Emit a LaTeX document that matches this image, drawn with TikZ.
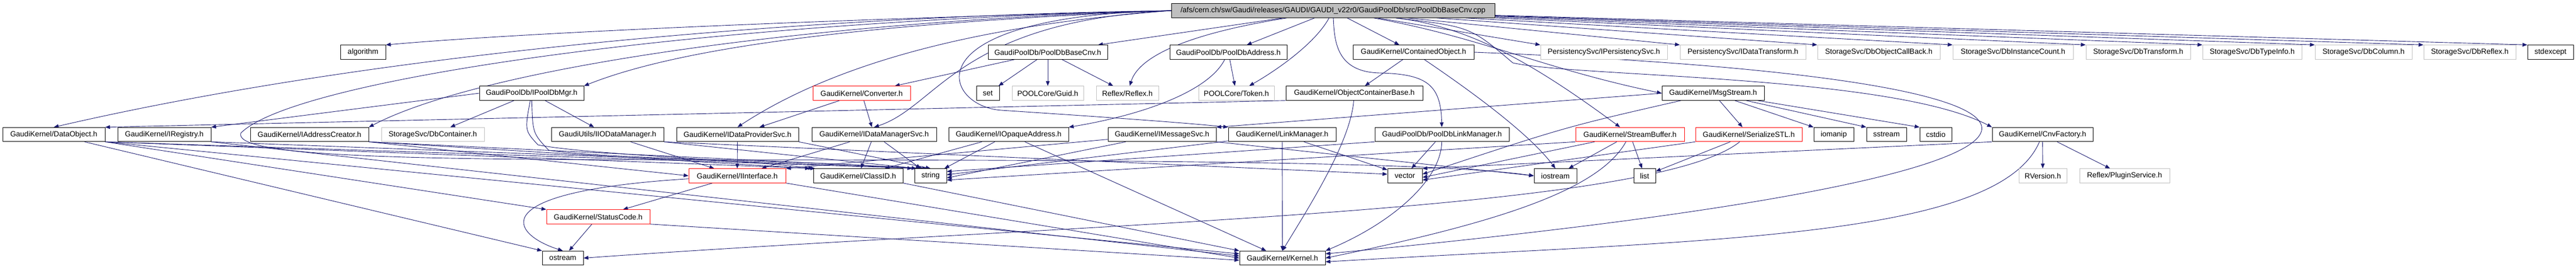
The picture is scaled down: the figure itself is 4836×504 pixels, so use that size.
\documentclass[tikz,border=0pt]{standalone}
\usepackage{fontspec}
\setmainfont{Liberation Sans}
\usetikzlibrary{arrows.meta}
\pgfdeclarelayer{bglayer}
\pgfdeclarelayer{edgelayer}
\pgfsetlayers{bglayer,edgelayer,main}
\definecolor{eb}{RGB}{25,25,112}
\definecolor{gr}{RGB}{191,191,191}
\begin{document}
\begin{tikzpicture}[x=1pt,y=1pt,
  nb/.style={draw=black, line width=1pt, rectangle, fill=white, minimum height=26.5pt, inner sep=0pt, font=\fontsize{14}{16}\selectfont},
  gb/.style={nb, draw=gr},
  rb/.style={nb, draw=red},
  lnk/.style={draw=eb, line width=0.9pt, -{Triangle[length=9pt,width=7pt]}}]
\begin{pgfonlayer}{bglayer}
\fill[white] (0,0) rectangle (4836,-504);
\end{pgfonlayer}
\useasboundingbox (0,0) rectangle (4836,-504);
% row 0
\node[nb, fill=gr, minimum width=607pt] (top) at (2502.5,-20) {/afs/cern.ch/sw/Gaudi/releases/GAUDI/GAUDI\_v22r0/GaudiPoolDb/src/PoolDbBaseCnv.cpp};
% row 1
\node[nb, minimum width=85pt] (algo) at (681.5,-98) {algorithm};
\node[nb, minimum width=224pt] (pdbcnvh) at (1967,-98) {GaudiPoolDb/PoolDbBaseCnv.h};
\node[nb, minimum width=220pt] (pdbaddr) at (2306,-98) {GaudiPoolDb/PoolDbAddress.h};
\node[nb, minimum width=227pt] (contobj) at (2653.5,-98) {GaudiKernel/ContainedObject.h};
\node[gb, minimum width=238pt] (ipers) at (3011,-98) {PersistencySvc/IPersistencySvc.h};
\node[gb, minimum width=236pt] (idt) at (3272,-98) {PersistencySvc/IDataTransform.h};
\node[gb, minimum width=230pt] (dbocb) at (3527,-98) {StorageSvc/DbObjectCallBack.h};
\node[gb, minimum width=226pt] (dbic) at (3779,-98) {StorageSvc/DbInstanceCount.h};
\node[gb, minimum width=196pt] (dbtr) at (4014,-98) {StorageSvc/DbTransform.h};
\node[gb, minimum width=186pt] (dbti) at (4228,-98) {StorageSvc/DbTypeInfo.h};
\node[gb, minimum width=182pt] (dbcol) at (4437,-98) {StorageSvc/DbColumn.h};
\node[gb, minimum width=173pt] (dbrfx) at (4636.5,-98) {StorageSvc/DbReflex.h};
\node[nb, minimum width=86pt] (stdexc) at (4788,-98) {stdexcept};
% row 2
\node[nb, minimum width=196pt] (ipdbmgr) at (998,-175) {GaudiPoolDb/IPoolDbMgr.h};
\node[rb, minimum width=183pt] (conv) at (1617.5,-175) {GaudiKernel/Converter.h};
\node[nb, minimum width=43pt] (set) at (1854.5,-175) {set};
\node[gb, minimum width=134pt] (guid) at (1967,-175) {POOLCore/Guid.h};
\node[gb, minimum width=117pt] (reflex) at (2116.5,-175) {Reflex/Reflex.h};
\node[gb, minimum width=142pt] (token) at (2321,-175) {POOLCore/Token.h};
\node[nb, minimum width=257pt] (ocb) at (2542.5,-175) {GaudiKernel/ObjectContainerBase.h};
\node[nb, minimum width=192pt] (msgs) at (3216,-175) {GaudiKernel/MsgStream.h};
% row 3
\node[nb, minimum width=192pt] (dataobj) at (101,-252.5) {GaudiKernel/DataObject.h};
\node[nb, minimum width=175pt] (ireg) at (308.5,-252.5) {GaudiKernel/IRegistry.h};
\node[nb, minimum width=222pt] (iaddc) at (581,-252.5) {GaudiKernel/IAddressCreator.h};
\node[gb, minimum width=193pt] (dbcont) at (812.5,-252.5) {StorageSvc/DbContainer.h};
\node[nb, minimum width=211pt] (iiodm) at (1140.5,-252.5) {GaudiUtils/IIODataManager.h};
\node[nb, minimum width=229pt] (idps) at (1384.5,-252.5) {GaudiKernel/IDataProviderSvc.h};
\node[nb, minimum width=234pt] (idms) at (1641,-252.5) {GaudiKernel/IDataManagerSvc.h};
\node[nb, minimum width=225pt] (ioa) at (1893.5,-252.5) {GaudiKernel/IOpaqueAddress.h};
\node[nb, minimum width=203pt] (imsg) at (2181.5,-252.5) {GaudiKernel/IMessageSvc.h};
\node[nb, minimum width=202pt] (linkm) at (2407,-252.5) {GaudiKernel/LinkManager.h};
\node[nb, minimum width=252pt] (pdblm) at (2707,-252.5) {GaudiPoolDb/PoolDbLinkManager.h};
\node[rb, minimum width=204pt] (sbuf) at (3060,-252.5) {GaudiKernel/StreamBuffer.h};
\node[rb, minimum width=200pt] (sstl) at (3283,-252.5) {GaudiKernel/SerializeSTL.h};
\node[nb, minimum width=75pt] (iomanip) at (3442.5,-252.5) {iomanip};
\node[nb, minimum width=75pt] (sstream) at (3541.5,-252.5) {sstream};
\node[nb, minimum width=60pt] (cstdio) at (3634,-252.5) {cstdio};
\node[nb, minimum width=189pt] (cnvf) at (3834.5,-252.5) {GaudiKernel/CnvFactory.h};
% row 4
\node[rb, minimum width=182pt] (iintf) at (1384,-330) {GaudiKernel/IInterface.h};
\node[nb, minimum width=168pt] (classid) at (1611,-330) {GaudiKernel/ClassID.h};
\node[nb, minimum width=60pt] (string) at (1747,-330) {string};
\node[nb, minimum width=65pt] (vector) at (2637.5,-330) {vector};
\node[nb, minimum width=80pt] (iostream) at (2920,-330) {iostream};
\node[nb, minimum width=41pt] (list) at (3087.5,-330) {list};
\node[gb, minimum width=90pt] (rver) at (3835,-330) {RVersion.h};
\node[gb, minimum width=169pt] (plug) at (3988.5,-330) {Reflex/PluginService.h};
% row 5
\node[rb, minimum width=194pt] (status) at (1123,-407) {GaudiKernel/StatusCode.h};
% row 6
\node[nb, minimum width=77pt] (ostream) at (1056.5,-484.5) {ostream};
\node[nb, minimum width=161pt] (kernel) at (2407.5,-484.5) {GaudiKernel/Kernel.h};

\begin{pgfonlayer}{edgelayer}
% from the source file
\draw[lnk] (top.west) .. controls (1600,-35) and (1000,-60) .. (algo.north east);
\draw[lnk] (top.west) .. controls (1500,-30) and (700,-100) .. (dataobj.north);
\draw[lnk] (top.west) .. controls (1500,-40) and (900,-130) .. (iaddc.north east);
\draw[lnk] (top.west) .. controls (1300,-40) and (550,-150) .. (452,-250) .. controls (440,-290) and (700,-300) .. (1250,-300) .. controls (2200,-300) and (2700,-305) .. (iostream.west);
\draw[lnk] (top.west) .. controls (1700,-40) and (1300,-80) .. (ipdbmgr.north east);
\draw[lnk] (top.west) .. controls (1800,-50) and (1550,-130) .. (idps.north);
\draw[lnk] (top.west) .. controls (1800,-40) and (1760,-200) .. (idms.north);
\draw[lnk] (top.west) .. controls (1700,-30) and (1770,-200) .. (1880,-207) .. controls (2000,-215) and (2200,-228) .. (linkm.north west);
\draw[lnk] (top) -- (pdbcnvh);
\draw[lnk] (top) .. controls (2250,-60) and (2140,-100) .. (reflex);
\draw[lnk] (top) -- (pdbaddr);
\draw[lnk] (top) .. controls (2470,-80) and (2400,-130) .. (token);
\draw[lnk] (top) .. controls (2505,-80) and (2510,-135) .. (2590,-137) .. controls (2680,-139) and (2705,-160) .. (pdblm);
\draw[lnk] (top) -- (contobj);
\draw[lnk] (top) -- (ipers.north west);
\draw[lnk] (top) -- (idt.north west);
\draw[lnk] (top) -- (dbocb.north west);
\draw[lnk] (top) -- (dbic.north west);
\draw[lnk] (top) -- (dbtr.north west);
\draw[lnk] (top) -- (dbti.north west);
\draw[lnk] (top) -- (dbcol.north west);
\draw[lnk] (top) -- (dbrfx.north west);
\draw[lnk] (top) -- (stdexc.north west);
\draw[lnk] (top) .. controls (2780,-70) and (2900,-130) .. (msgs.west);
\draw[lnk] (top) .. controls (2760,-50) and (2880,-120) .. (sbuf);
\draw[lnk] (top) .. controls (2760,-50) .. (2840,-118) .. controls (2960,-145) and (3550,-140) .. (cnvf.north west);
% PoolDbBaseCnv.h
\draw[lnk] (pdbcnvh) -- (conv);
\draw[lnk] (pdbcnvh) -- (set);
\draw[lnk] (pdbcnvh) -- (guid);
\draw[lnk] (pdbcnvh) -- (reflex);
% PoolDbAddress.h
\draw[lnk] (pdbaddr) -- (token);
\draw[lnk] (pdbaddr) .. controls (2270,-170) and (2150,-215) .. (ioa.north east);
% ContainedObject.h
\draw[lnk] (contobj) -- (ocb);
\draw[lnk] (contobj) .. controls (2760,-170) and (2870,-250) .. (iostream.north);
\draw[lnk] (contobj.east) .. controls (4080,-150) and (4080,-327) .. ([yshift=8pt]kernel.east);
% ObjectContainerBase.h
\draw[lnk] (ocb.south west) -- (dataobj.north east);
\draw[lnk] (ocb) .. controls (2535,-270) and (2450,-400) .. (kernel.north);
% IPoolDbMgr.h
\draw[lnk] (ipdbmgr) -- (dbcont);
\draw[lnk] (ipdbmgr) -- (iiodm);
\draw[lnk] (ipdbmgr.west) -- (ireg.north east);
\draw[lnk] (ipdbmgr) .. controls (985,-245) .. (1010,-272) .. controls (1100,-290) and (1400,-300) .. (classid.north west);
\draw[lnk] (ipdbmgr) .. controls (1000,-250) .. (1030,-282) .. controls (1150,-300) and (1500,-300) .. ([xshift=-4pt]string.north west);
% IIODataManager.h
\draw[lnk] (iiodm) -- (iintf);
\draw[lnk] (iiodm.south east) -- ([xshift=4pt]string.north west);
\draw[lnk] (iiodm.south east) -- ([yshift=3pt]vector.west);
% IDataProviderSvc.h
\draw[lnk] (idps) -- (iintf);
\draw[lnk] (idps.south east) -- (string.north);
% IDataManagerSvc.h
\draw[lnk] (idms) -- (iintf);
\draw[lnk] (idms) -- (classid);
\draw[lnk] (idms) -- (string);
% IOpaqueAddress.h
\draw[lnk] (ioa) -- (classid);
\draw[lnk] (ioa) -- (string);
\draw[lnk] (ioa) -- (kernel);
% IMessageSvc.h
\draw[lnk] (imsg) -- (iintf.north east);
\draw[lnk] (imsg) -- ([yshift=-4pt]string.east);
\draw[lnk] (imsg.south east) -- (iostream.west);
% LinkManager.h
\draw[lnk] (linkm) -- (kernel);
\draw[lnk] (linkm) -- (vector);
\draw[lnk] (linkm) -- ([yshift=2pt]string.east);
% PoolDbLinkManager.h
\draw[lnk] (pdblm) -- (vector);
\draw[lnk] (pdblm) .. controls (2705,-340) and (2610,-420) .. (kernel.north east);
\draw[lnk] (pdblm.south west) -- ([yshift=8pt]string.east);
% Converter.h
\draw[lnk] (conv) -- (idps);
\draw[lnk] (conv) -- (idms);
% DataObject.h
\draw[lnk] (dataobj.south east) -- ([xshift=4pt]classid.north west);
\draw[lnk] (dataobj.south east) -- ([xshift=12pt]string.north west);
\draw[lnk] (dataobj.south east) -- (status.north west);
\draw[lnk] (dataobj) -- (ostream.north west);
\draw[lnk] (dataobj.south east) -- ([yshift=8pt]kernel.west);
% IRegistry.h
\draw[lnk] (ireg.south east) -- ([xshift=18pt]string.north west);
\draw[lnk] (ireg.south east) -- ([yshift=4pt]kernel.west);
% IAddressCreator.h
\draw[lnk] (iaddc.south east) -- (iintf.west);
\draw[lnk] (iaddc.south east) -- ([xshift=-6pt]classid.north west);
\draw[lnk] (iaddc.south east) -- ([xshift=24pt]string.north west);
% StatusCode.h
\draw[lnk] (status) -- (ostream);
\draw[lnk] (status.south east) -- ([yshift=-4pt]kernel.west);
% IInterface.h
\draw[lnk] (iintf) .. controls (900,-360) and (960,-440) .. (ostream.north);
\draw[lnk] (iintf) -- (status);
\draw[lnk] (iintf.south east) -- (kernel.west);
% ClassID.h
\draw[lnk] (classid.south east) -- (kernel.north west);
% StreamBuffer.h
\draw[lnk] (sbuf) -- (iostream);
\draw[lnk] (sbuf) -- (list);
\draw[lnk] (sbuf) .. controls (3000,-360) and (2800,-420) .. (kernel.east);
\draw[lnk] (sbuf.south west) -- ([yshift=-8pt]string.east);
\draw[lnk] (sbuf) -- ([yshift=-3pt]vector.east);
% SerializeSTL.h
\draw[lnk] (sstl) -- (list);
\draw[lnk] (sstl.south west) -- ([yshift=-8pt]vector.east);
\draw[lnk] (sstl) .. controls (3100,-400) and (2000,-420) .. (ostream.east);
% MsgStream.h
\draw[lnk] (msgs.west) -- (imsg.north east);
\draw[lnk] (msgs) .. controls (2940,-238) .. ([yshift=3pt]vector.east);
\draw[lnk] (msgs) -- (sstl);
\draw[lnk] (msgs) -- (iomanip.north west);
\draw[lnk] (msgs) -- (sstream.north west);
\draw[lnk] (msgs) -- (cstdio.north west);
% CnvFactory.h
\draw[lnk] (cnvf) -- (rver);
\draw[lnk] (cnvf) -- (plug);
\draw[lnk] (cnvf) .. controls (3750,-450) and (3200,-450) .. ([yshift=-7pt]kernel.east);
\draw[lnk] (cnvf.south west) -- (vector.north east);
\end{pgfonlayer}
\end{tikzpicture}
\end{document}
